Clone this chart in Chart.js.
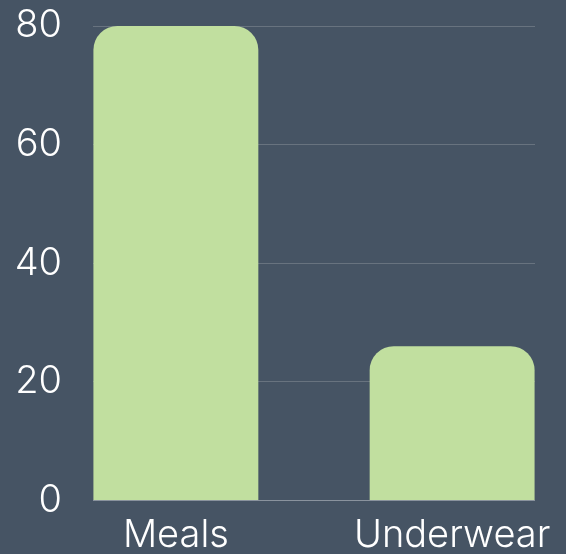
<!DOCTYPE html>
<html><head><meta charset="utf-8">
<script src="https://cdn.jsdelivr.net/npm/chart.js@4/dist/chart.umd.min.js"></script>
<style>
html,body{margin:0;padding:0;background:#465464;}
#wrap{width:566px;height:554px;position:relative;}
</style></head>
<body><div id="wrap"><canvas id="c"></canvas></div>
<script>
const categories = ["Meals", "Underwear"];
const values = [80, 26];
const yTicks = [0, 20, 40, 60, 80];

const points = values.map((v, i) => ({x: i, y: v}));
const font = {family: "Inter", size: 38, weight: 300};

new Chart(document.getElementById('c'), {
  type: 'bar',
  data: { datasets: [{ data: points, backgroundColor: '#c1df9f', borderRadius: 24, borderSkipped: 'bottom', categoryPercentage: 1, barPercentage: 0.597 }] },
  options: {
    responsive: true, maintainAspectRatio: false, animation: false,
    layout: { padding: { left: 0, right: 31, top: 26, bottom: 0 } },
    plugins: { legend: {display: false}, tooltip: {enabled: false} },
    scales: {
      x: {
        type: 'linear', min: -0.3, max: 1.3, offset: false,
        grid: {display: false, offset: false}, border: {display: false},
        afterBuildTicks: (s) => { s.ticks = categories.map((_, i) => ({value: i})); },
        afterFit: (s) => { s.height = 53.5; s.paddingLeft = 0; s.paddingRight = 0; },
        ticks: { color: '#ffffff', font: font, padding: 4, autoSkip: false, maxRotation: 0,
                 callback: (v) => categories[v] }
      },
      y: {
        min: 0, max: 80,
        afterBuildTicks: (s) => { s.ticks = yTicks.map(v => ({value: v})); },
        afterFit: (s) => { s.width = 93; s.paddingTop = 0; s.paddingBottom = 0; },
        grid: { drawTicks: false, lineWidth: 1, color: (ctx) => ctx.tick && ctx.tick.value === 0 ? '#8a939e' : '#68737f' },
        border: {display: false},
        ticks: { color: '#ffffff', font: font, padding: 31 }
      }
    }
  }
});
</script></body></html>
